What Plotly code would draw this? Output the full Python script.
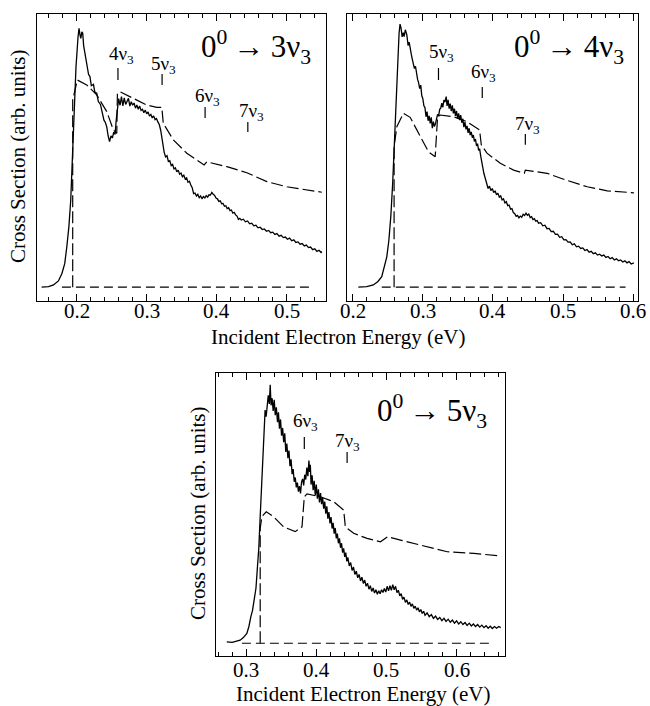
import plotly.graph_objects as go

# ---------------- data ----------------
# Panel 1: 0 -> 3nu3 (experiment, solid)
p1_exp_x = [0.150, 0.160, 0.167, 0.174, 0.179, 0.183, 0.186, 0.189, 0.1916, 0.1953, 0.1991, 0.2020, 0.2034,
            0.2050, 0.2060, 0.2075, 0.2087, 0.2100, 0.2120, 0.2150, 0.2170, 0.2190, 0.2210, 0.2240, 0.2260,
            0.2287, 0.2310, 0.2340, 0.2360, 0.2390, 0.2410, 0.2430, 0.2450, 0.2470, 0.2490, 0.2510, 0.2530,
            0.2549, 0.2565, 0.2582, 0.2600, 0.2620, 0.2640, 0.2660, 0.2680, 0.2700, 0.2720, 0.2740, 0.2760,
            0.2780, 0.2800, 0.2820, 0.2840, 0.2860, 0.2880, 0.2900, 0.2920, 0.2940, 0.2960, 0.2980, 0.3000,
            0.3020, 0.3040, 0.3060, 0.3080, 0.3100, 0.3120, 0.3140, 0.3160, 0.3180, 0.3200, 0.3216, 0.3235,
            0.3250, 0.3270, 0.3290, 0.3310, 0.3330, 0.3350, 0.3370, 0.3390, 0.3410, 0.3430, 0.3450, 0.3470,
            0.3490, 0.3510, 0.3530, 0.3550, 0.3570, 0.3590, 0.3610, 0.3630, 0.3650, 0.3670, 0.3690, 0.3710,
            0.3730, 0.3750, 0.3770, 0.3790, 0.3810, 0.3830, 0.3850, 0.3870, 0.3890, 0.3910, 0.3930, 0.3950,
            0.3970, 0.3990, 0.4010, 0.4030, 0.4050, 0.4070, 0.4090, 0.4110, 0.4130, 0.4150, 0.4170, 0.4190,
            0.4210, 0.4230, 0.4250, 0.4270, 0.4290, 0.4310, 0.4330, 0.4350, 0.4380, 0.4410, 0.4440, 0.4470,
            0.4500, 0.4530, 0.4560, 0.4590, 0.4620, 0.4650, 0.4680, 0.4710, 0.4740, 0.4770, 0.4800, 0.4830,
            0.4860, 0.4890, 0.4920, 0.4950, 0.4980, 0.5010, 0.5040, 0.5070, 0.5100, 0.5130, 0.5160, 0.5190,
            0.5220, 0.5250, 0.5280, 0.5310, 0.5340, 0.5370, 0.5400, 0.5430, 0.5460, 0.5490, 0.5501]
p1_exp_y = [4.8, 5.0, 5.6, 7.0, 9.6, 13.0, 18.9, 26.0, 35.2, 58.4, 81.6, 92.0, 95.0,
            92.5, 91.5, 93.8, 93.3, 89.0, 86.3, 82.5, 79.0, 78.2, 75.0, 75.5, 72.8,
            72.4, 69.5, 68.5, 66.6, 63.0, 62.2, 60.7, 57.5, 55.5, 57.5, 56.8, 58.8,
            58.0, 63.0, 67.0, 70.5, 68.2, 71.2, 68.0, 70.8, 68.5, 69.5, 70.6, 67.9,
            69.4, 68.2, 69.0, 67.2, 68.3, 66.8, 67.9, 66.4, 66.8, 65.6, 66.5, 65.2,
            65.9, 64.4, 65.0, 63.8, 64.5, 63.2, 63.6, 62.4, 61.5, 59.5, 57.0, 53.0,
            51.8, 50.2, 50.6, 48.6, 48.9, 47.2, 47.6, 46.0, 46.4, 45.0, 45.6, 44.2,
            44.6, 43.3, 43.8, 42.5, 42.9, 41.4, 41.7, 40.4, 39.5, 37.4, 37.6, 36.6,
            37.2, 36.0, 36.6, 35.6, 36.4, 35.9, 36.7, 36.2, 37.0, 36.9, 37.8, 37.2,
            36.8, 35.9, 35.6, 34.7, 34.9, 33.9, 34.0, 33.0, 33.2, 32.2, 32.5, 31.5,
            31.7, 30.6, 30.9, 30.0, 29.6, 28.4, 28.8, 28.2, 28.5, 27.6, 27.9, 26.9,
            27.1, 26.2, 26.4, 25.5, 25.7, 24.9, 25.1, 24.3, 24.6, 23.8, 24.0, 23.2,
            23.5, 22.6, 22.9, 22.1, 22.3, 21.5, 21.9, 21.0, 21.3, 20.4, 20.6, 19.8,
            20.0, 19.2, 19.5, 18.6, 18.8, 17.9, 18.2, 17.3, 17.7, 16.9, 17.2]
# Panel 1 theory (dashed)
p1_th_x = [0.1944, 0.1944, 0.201, 0.2144, 0.2287, 0.243, 0.2525, 0.2573, 0.2582, 0.262, 0.281, 0.2999,
           0.3144, 0.3216, 0.3237, 0.3381, 0.3573, 0.382, 0.3859, 0.4144, 0.443, 0.4716, 0.500, 0.5501]
p1_th_y = [4.8, 70.0, 77.0, 75.3, 71.8, 66.0, 59.6, 58.4, 72.4, 72.9, 70.6, 68.3,
           67.5, 67.5, 61.9, 56.1, 51.5, 47.4, 48.5, 46.8, 44.7, 41.6, 39.8, 37.9]
p1_base_x = [0.179, 0.534]
p1_base_y = [4.8, 4.8]
p1_labels = ["4ν<sub>3</sub>", "5ν<sub>3</sub>", "6ν<sub>3</sub>", "7ν<sub>3</sub>"]
p1_label_x = [0.2634, 0.3244, 0.3863, 0.4491]
p1_label_y = [85.7, 82.2, 71.2, 66.0]
p1_mark_x = [0.259, 0.322, 0.3834, 0.4444]
p1_mark_lo = [77.0, 75.3, 63.8, 58.9]
p1_mark_hi = [81.2, 79.1, 67.6, 62.4]

# Panel 2: 0 -> 4nu3
p2_exp_x = [0.208, 0.220, 0.2294, 0.236, 0.2414, 0.2450, 0.2486, 0.2515, 0.2543, 0.2570, 0.2590, 0.2610,
            0.2629, 0.2645, 0.2661, 0.2675, 0.2690, 0.2705, 0.2720, 0.2733, 0.2750, 0.2771, 0.2790, 0.2805,
            0.2819, 0.2835, 0.2850, 0.2865, 0.2880, 0.2895, 0.2910, 0.2925, 0.2940, 0.2955, 0.2970, 0.2985,
            0.3000, 0.3015, 0.3030, 0.3045, 0.3060, 0.3075, 0.3090, 0.3105, 0.3120, 0.3135, 0.3150, 0.3165,
            0.3180, 0.3195, 0.3210, 0.3225, 0.3240, 0.3255, 0.3270, 0.3285, 0.3300, 0.3315, 0.3333, 0.3345,
            0.3360, 0.3375, 0.3390, 0.3405, 0.3420, 0.3435, 0.3450, 0.3465, 0.3480, 0.3495, 0.3510, 0.3525,
            0.3540, 0.3555, 0.3570, 0.3585, 0.3600, 0.3615, 0.3630, 0.3645, 0.3660, 0.3675, 0.3690, 0.3705,
            0.3720, 0.3735, 0.3750, 0.3765, 0.3780, 0.3795, 0.3810, 0.3825, 0.3840, 0.3855, 0.3870, 0.3885,
            0.3900, 0.3915, 0.3930, 0.3950, 0.3970, 0.3990, 0.4010, 0.4030, 0.4050, 0.4070, 0.4090, 0.4110,
            0.4130, 0.4150, 0.4170, 0.4190, 0.4210, 0.4230, 0.4250, 0.4270, 0.4290, 0.4310, 0.4330, 0.4350,
            0.4370, 0.4390, 0.4410, 0.4430, 0.4450, 0.4470, 0.4490, 0.4510, 0.4530, 0.4550, 0.4570, 0.4590,
            0.4610, 0.4630, 0.4650, 0.4680, 0.4710, 0.4740, 0.4770, 0.4800, 0.4830, 0.4860, 0.4890, 0.4920,
            0.4950, 0.4980, 0.5010, 0.5040, 0.5070, 0.5100, 0.5130, 0.5160, 0.5190, 0.5220, 0.5250, 0.5280,
            0.5310, 0.5340, 0.5370, 0.5400, 0.5430, 0.5460, 0.5490, 0.5520, 0.5550, 0.5580, 0.5610, 0.5640,
            0.5670, 0.5700, 0.5730, 0.5760, 0.5790, 0.5820, 0.5850, 0.5880, 0.5910, 0.5940, 0.5970, 0.6009]
p2_exp_y = [4.8, 5.0, 5.6, 6.8, 8.5, 12.0, 15.4, 21.0, 29.4, 41.0, 52.6, 65.0,
            75.9, 86.0, 93.3, 96.5, 95.0, 92.0, 93.5, 92.1, 94.5, 92.8, 89.0, 90.2,
            87.5, 86.0, 84.2, 83.0, 81.0, 81.8, 78.5, 77.2, 76.0, 74.0, 75.2, 71.5,
            70.5, 68.0, 67.4, 64.2, 66.0, 62.8, 64.5, 61.9, 64.0, 60.2, 62.5, 60.8,
            61.8, 63.0, 65.0, 64.4, 66.8, 67.2, 68.9, 67.5, 70.0, 69.3, 71.2, 68.0,
            70.1, 67.0, 68.8, 66.2, 68.2, 65.4, 67.0, 64.5, 66.2, 63.6, 65.4, 63.0,
            64.8, 62.1, 63.5, 60.6, 62.3, 59.8, 61.0, 58.6, 60.2, 57.8, 58.9, 56.9,
            57.8, 55.6, 56.4, 54.0, 54.8, 52.5, 53.0, 50.5, 49.0, 46.5, 44.5, 43.2,
            41.5, 40.8, 39.2, 40.0, 38.5, 39.2, 37.8, 38.4, 37.0, 37.6, 36.2, 36.6,
            35.2, 35.6, 34.2, 34.6, 33.2, 33.4, 32.0, 32.2, 30.8, 30.4, 29.5, 29.8,
            29.0, 29.6, 29.2, 30.2, 29.8, 30.6, 29.9, 30.3, 29.1, 29.4, 28.4, 28.7,
            27.8, 28.0, 27.1, 27.3, 26.2, 26.4, 25.2, 25.3, 24.2, 24.3, 23.2, 23.3,
            22.2, 22.4, 21.3, 21.4, 20.5, 20.6, 19.6, 19.9, 18.9, 19.1, 18.3, 18.5,
            17.6, 17.9, 17.0, 17.3, 16.5, 16.8, 16.0, 16.3, 15.7, 16.0, 15.2, 15.5,
            14.7, 15.1, 14.3, 14.7, 14.0, 14.3, 13.6, 14.0, 13.3, 13.7, 12.9, 13.3]
p2_th_x = [0.259, 0.259, 0.2629, 0.2723, 0.2819, 0.2961, 0.308, 0.3176, 0.3209, 0.3247, 0.3437, 0.3629,
           0.3809, 0.3833, 0.3914, 0.4104, 0.4294, 0.4447, 0.4461, 0.4771, 0.5033, 0.5343, 0.5629, 0.6009]
p2_th_y = [4.8, 53.8, 60.7, 65.4, 64.0, 57.2, 52.0, 50.3, 63.7, 64.8, 64.2, 62.5,
           59.6, 54.4, 51.5, 48.0, 45.6, 44.5, 45.6, 44.5, 42.2, 39.8, 38.4, 37.7]
p2_base_x = [0.2414, 0.589]
p2_base_y = [4.8, 4.8]
p2_labels = ["5ν<sub>3</sub>", "6ν<sub>3</sub>", "7ν<sub>3</sub>"]
p2_label_x = [0.3261, 0.3866, 0.4494]
p2_label_y = [86.3, 79.3, 61.3]
p2_mark_x = [0.3223, 0.3847, 0.4461]
p2_mark_lo = [77.0, 70.7, 54.4]
p2_mark_hi = [81.2, 74.6, 58.2]

# Panel 3: 0 -> 5nu3
p3_exp_x = [0.2724, 0.2800, 0.2914, 0.2960, 0.3010, 0.3040, 0.3067, 0.3090, 0.3114, 0.3140, 0.3161, 0.3180,
            0.3200, 0.3212, 0.3224, 0.3240, 0.3257, 0.3270, 0.3285, 0.3300, 0.3315, 0.3330, 0.3343, 0.3355,
            0.3370, 0.3385, 0.3400, 0.3415, 0.3430, 0.3447, 0.3460, 0.3475, 0.3490, 0.3505, 0.3520, 0.3535,
            0.3550, 0.3565, 0.3580, 0.3595, 0.3610, 0.3625, 0.3640, 0.3655, 0.3670, 0.3685, 0.3700, 0.3715,
            0.3730, 0.3745, 0.3760, 0.3775, 0.3790, 0.3805, 0.3820, 0.3835, 0.3850, 0.3865, 0.3880, 0.3895,
            0.3905, 0.3915, 0.3925, 0.3940, 0.3955, 0.3970, 0.3985, 0.4000, 0.4015, 0.4030, 0.4045, 0.4060,
            0.4075, 0.4090, 0.4105, 0.4120, 0.4135, 0.4150, 0.4165, 0.4180, 0.4195, 0.4210, 0.4225, 0.4240,
            0.4255, 0.4270, 0.4285, 0.4300, 0.4315, 0.4330, 0.4345, 0.4360, 0.4375, 0.4390, 0.4405, 0.4420,
            0.4435, 0.4450, 0.4470, 0.4490, 0.4510, 0.4530, 0.4550, 0.4570, 0.4590, 0.4610, 0.4630, 0.4650,
            0.4670, 0.4690, 0.4710, 0.4730, 0.4750, 0.4770, 0.4790, 0.4810, 0.4830, 0.4850, 0.4870, 0.4890,
            0.4910, 0.4930, 0.4950, 0.4970, 0.4990, 0.5010, 0.5030, 0.5050, 0.5070, 0.5090, 0.5110, 0.5130,
            0.5150, 0.5170, 0.5190, 0.5210, 0.5230, 0.5250, 0.5270, 0.5290, 0.5310, 0.5330, 0.5350, 0.5370,
            0.5390, 0.5410, 0.5430, 0.5450, 0.5470, 0.5490, 0.5510, 0.5530, 0.5550, 0.5580, 0.5610, 0.5640,
            0.5670, 0.5700, 0.5730, 0.5760, 0.5790, 0.5820, 0.5850, 0.5880, 0.5910, 0.5940, 0.5970, 0.6000,
            0.6030, 0.6060, 0.6090, 0.6120, 0.6150, 0.6180, 0.6210, 0.6240, 0.6270, 0.6300, 0.6330, 0.6360,
            0.6390, 0.6420, 0.6450, 0.6480, 0.6510, 0.6540, 0.6570, 0.6600, 0.6629]
p3_exp_y = [5.0, 4.8, 5.6, 6.5, 8.0, 10.5, 13.9, 16.0, 19.8, 24.0, 31.5, 38.0,
            49.2, 56.0, 66.8, 75.0, 82.1, 86.8, 84.5, 88.2, 92.0, 89.0, 95.7, 88.5,
            91.0, 86.5, 90.4, 85.0, 87.8, 82.5, 86.0, 80.2, 83.5, 77.8, 80.5, 75.5,
            78.6, 72.0, 75.0, 69.8, 72.5, 67.0, 69.4, 64.2, 66.0, 61.5, 63.0, 59.5,
            61.2, 58.0, 60.0, 57.4, 61.5, 62.5, 60.2, 64.0, 62.3, 66.5, 63.5, 69.0,
            65.0, 67.5, 60.5, 63.8, 58.5, 61.8, 56.8, 60.5, 55.5, 58.8, 54.2, 57.5,
            53.6, 56.0, 52.0, 54.5, 50.2, 52.8, 48.5, 50.8, 46.8, 49.0, 45.0, 47.0,
            43.2, 45.2, 41.5, 43.2, 39.8, 41.5, 38.2, 39.8, 36.5, 38.0, 35.0, 36.5,
            33.4, 34.8, 31.8, 33.0, 30.2, 31.4, 28.8, 30.0, 27.6, 28.8, 26.5, 27.8,
            25.6, 26.8, 24.6, 25.7, 23.6, 24.8, 22.8, 24.0, 22.2, 23.4, 21.8, 23.0,
            22.0, 23.4, 22.4, 23.8, 22.6, 24.6, 23.0, 24.8, 23.2, 25.2, 23.4, 24.6,
            22.4, 23.2, 21.2, 22.0, 20.0, 20.8, 18.9, 19.8, 18.2, 19.0, 17.5, 18.4,
            16.8, 17.6, 16.2, 17.0, 15.6, 16.4, 15.0, 15.8, 14.4, 15.2, 13.9, 14.6,
            13.3, 14.1, 12.9, 13.6, 12.5, 13.3, 12.2, 13.0, 11.9, 12.7, 11.6, 12.4,
            11.3, 12.1, 11.1, 11.8, 10.8, 11.6, 10.6, 11.3, 10.4, 11.1, 10.2, 10.9,
            10.0, 10.7, 9.8, 10.5, 9.7, 10.4, 9.8, 10.4, 10.0]
p3_th_x = [0.32, 0.32, 0.3224, 0.3286, 0.339, 0.3533, 0.37, 0.3796, 0.3829, 0.3867, 0.4057, 0.4247,
           0.439, 0.4414, 0.4533, 0.4724, 0.4914, 0.5019, 0.52, 0.5581, 0.5867, 0.6247, 0.6629]
p3_th_y = [4.5, 45.0, 49.2, 50.9, 49.2, 45.6, 43.9, 45.6, 56.2, 57.2, 56.2, 54.5,
           51.5, 45.6, 43.3, 41.5, 40.3, 42.1, 40.9, 38.6, 36.8, 36.2, 35.3]
p3_base_x = [0.2939, 0.651]
p3_base_y = [4.5, 4.5]
p3_labels = ["6ν<sub>3</sub>", "7ν<sub>3</sub>"]
p3_label_x = [0.3847, 0.4439]
p3_label_y = [82.7, 75.6]
p3_mark_x = [0.3829, 0.4439]
p3_mark_lo = [73.1, 68.1]
p3_mark_hi = [77.3, 72.0]

TS = "\u2009"
titles = [f"0<sup>0</sup>{TS}→{TS}3ν<sub>3</sub>", f"0<sup>0</sup>{TS}→{TS}4ν<sub>3</sub>",
          f"0<sup>0</sup>{TS}→{TS}5ν<sub>3</sub>"]
title_x = [0.5377, 0.589, 0.6457]
title_y = [88.5, 88.6, 86.6]

x_ranges = [[0.143, 0.556], [0.1923, 0.6063], [0.257, 0.669]]
tick_vals = [[0.2, 0.3, 0.4, 0.5], [0.2, 0.3, 0.4, 0.5, 0.6], [0.3, 0.4, 0.5, 0.6]]
x_title = "Incident Electron Energy (eV)"
y_title = "Cross Section (arb. units)"

# ---------------- figure ----------------
FONT = "'Liberation Serif', 'Times New Roman', serif"
fig = go.Figure()

panels = [
    (p1_exp_x, p1_exp_y, p1_th_x, p1_th_y, p1_base_x, p1_base_y, p1_labels, p1_label_x, p1_label_y,
     p1_mark_x, p1_mark_lo, p1_mark_hi),
    (p2_exp_x, p2_exp_y, p2_th_x, p2_th_y, p2_base_x, p2_base_y, p2_labels, p2_label_x, p2_label_y,
     p2_mark_x, p2_mark_lo, p2_mark_hi),
    (p3_exp_x, p3_exp_y, p3_th_x, p3_th_y, p3_base_x, p3_base_y, p3_labels, p3_label_x, p3_label_y,
     p3_mark_x, p3_mark_lo, p3_mark_hi),
]

# pixel rows (from top) where the tick-label boxes are centred for each panel
ticklabel_rows = [311, 311, 670]

annotations = []
for i, (ex, ey, tx, ty, bx, by, labs, lx, ly, mx, mlo, mhi) in enumerate(panels):
    xa = "x" if i == 0 else f"x{i+1}"
    ya = "y" if i == 0 else f"y{i+1}"
    fig.add_trace(go.Scatter(x=bx, y=by, mode="lines", xaxis=xa, yaxis=ya,
                             line=dict(color="black", width=1.2, dash="9px,5px"), showlegend=False))
    fig.add_trace(go.Scatter(x=tx, y=ty, mode="lines", xaxis=xa, yaxis=ya,
                             line=dict(color="black", width=1.2, dash="12px,4px"), showlegend=False))
    fig.add_trace(go.Scatter(x=ex, y=ey, mode="lines", xaxis=xa, yaxis=ya,
                             line=dict(color="black", width=1.3), showlegend=False))
    seg_x, seg_y = [], []
    for xv, lo, hi in zip(mx, mlo, mhi):
        seg_x += [xv, xv, None]
        seg_y += [lo, hi, None]
    fig.add_trace(go.Scatter(x=seg_x, y=seg_y, mode="lines", xaxis=xa, yaxis=ya,
                             line=dict(color="black", width=1.2), showlegend=False))
    for t, xv, yv in zip(labs, lx, ly):
        annotations.append(dict(text=t, x=xv, y=yv, xref=xa, yref=ya, showarrow=False,
                                font=dict(family=FONT, size=19, color="black"),
                                xanchor="center", yanchor="middle"))
    annotations.append(dict(text=titles[i], x=title_x[i], y=title_y[i], xref=xa, yref=ya,
                            showarrow=False, font=dict(family=FONT, size=31, color="black"),
                            xanchor="right", yanchor="middle"))
    for tv in tick_vals[i]:
        annotations.append(dict(text=f"{tv:.1f}", x=tv, y=1 - ticklabel_rows[i] / 706, xref=xa,
                                yref="paper", showarrow=False, borderpad=0,
                                font=dict(family=FONT, size=21, color="black"),
                                xanchor="center", yanchor="middle"))

annotations += [
    dict(text=x_title, x=0.52, y=1 - 337 / 706, xref="paper", yref="paper", showarrow=False,
         font=dict(family=FONT, size=21, color="black"), xanchor="center", yanchor="middle"),
    dict(text=x_title, x=0.558, y=1 - 694 / 706, xref="paper", yref="paper", showarrow=False,
         borderpad=0, font=dict(family=FONT, size=21, color="black"), xanchor="center", yanchor="middle"),
    dict(text=y_title, x=18 / 650, y=1 - 157 / 706, xref="paper", yref="paper", showarrow=False,
         textangle=-90, font=dict(family=FONT, size=21, color="black"), xanchor="center", yanchor="middle"),
    dict(text=y_title, x=198 / 650, y=1 - 514 / 706, xref="paper", yref="paper", showarrow=False,
         textangle=-90, font=dict(family=FONT, size=21, color="black"), xanchor="center", yanchor="middle"),
]

x_domains = [[36.7 / 650, 326 / 650], [347.3 / 650, 637.7 / 650], [216 / 650, 505 / 650]]
y_domains = [[1 - 301 / 706, 1 - 14 / 706], [1 - 301 / 706, 1 - 14 / 706], [1 - 656 / 706, 1 - 372.7 / 706]]

layout = dict(width=650, height=706, margin=dict(l=0, r=0, t=0, b=0),
              paper_bgcolor="white", plot_bgcolor="white", showlegend=False,
              annotations=annotations, font=dict(family=FONT, color="black"))
for i in range(3):
    sx = "" if i == 0 else str(i + 1)
    layout[f"xaxis{sx}"] = dict(domain=x_domains[i], range=x_ranges[i], anchor=f"y{sx}",
                                tickvals=tick_vals[i], showticklabels=False, ticks="inside", ticklen=7,
                                tickwidth=1.2, tickcolor="black", showline=True, linecolor="black",
                                linewidth=1.3, mirror="ticks", showgrid=False, zeroline=False,
                                minor=dict(dtick=0.02, tick0=0, ticks="inside", ticklen=4,
                                           tickwidth=1.2, tickcolor="black", showgrid=False))
    layout[f"yaxis{sx}"] = dict(domain=y_domains[i], range=[0, 100], anchor=f"x{sx}",
                                showticklabels=False, ticks="", showline=True, linecolor="black",
                                linewidth=1.3, mirror=True, showgrid=False, zeroline=False)

fig.update_layout(**layout)
fig.write_html("out.html")
